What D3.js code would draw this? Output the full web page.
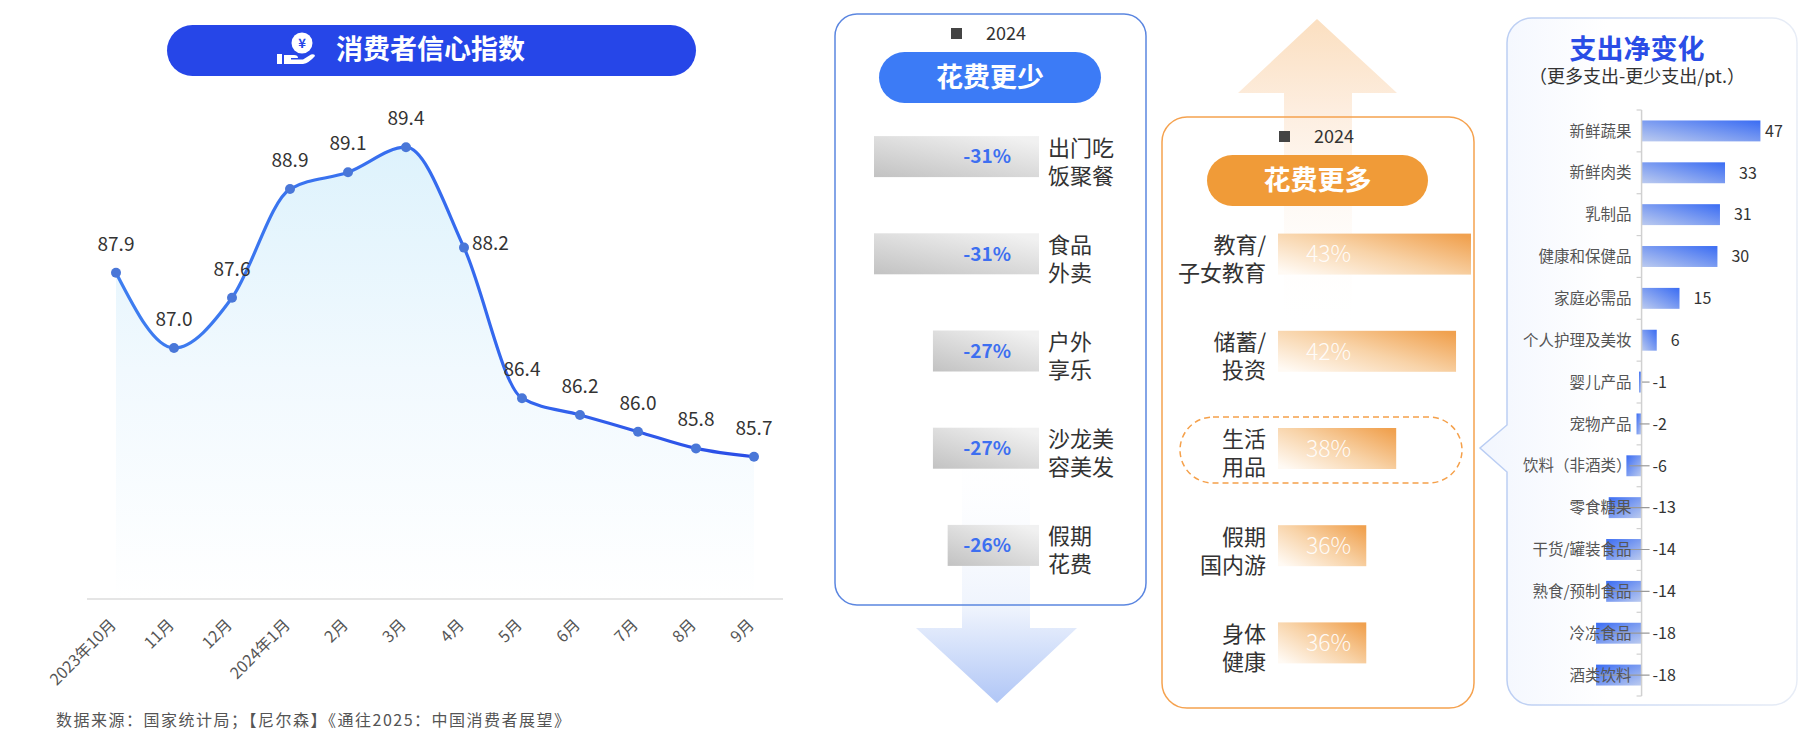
<!DOCTYPE html>
<html>
<head>
<meta charset="utf-8">
<script src="https://d3js.org/d3.v7.min.js"></script>
<style>
  body { margin: 0; background: #fff; }
  text { font-family: "Noto Sans CJK SC", "Noto Sans", sans-serif; }
</style>
</head>
<body>
<svg width="1800" height="754"></svg>
<script>
  // consumer confidence index
  const months = ["2023年10月", "11月", "12月", "2024年1月", "2月", "3月", "4月", "5月", "6月", "7月", "8月", "9月"];
  const confidence = [87.9, 87.0, 87.6, 88.9, 89.1, 89.4, 88.2, 86.4, 86.2, 86.0, 85.8, 85.7];

  // spend less / spend more (2024), "|" splits the two label lines
  const lessItems = ["出门吃|饭聚餐", "食品|外卖", "户外|享乐", "沙龙美|容美发", "假期|花费"];
  const lessValues = [-31, -31, -27, -27, -26];
  const moreItems = ["教育/|子女教育", "储蓄/|投资", "生活|用品", "假期|国内游", "身体|健康"];
  const moreValues = [43, 42, 38, 36, 36];

  // net change in spending
  const netCategories = ["新鲜蔬果", "新鲜肉类", "乳制品", "健康和保健品", "家庭必需品", "个人护理及美妆", "婴儿产品",
    "宠物产品", "饮料（非酒类）", "零食糖果", "干货/罐装食品", "熟食/预制食品", "冷冻食品", "酒类饮料"];
  const netValues = [47, 33, 31, 30, 15, 6, -1, -2, -6, -13, -14, -14, -18, -18];

  const svg = d3.select("svg");
  const defs = svg.append("defs");

  const grad = (id, a, b, stops, units) => {
    const g = defs.append("linearGradient").attr("id", id)
      .attr("x1", a[0]).attr("y1", a[1]).attr("x2", b[0]).attr("y2", b[1]);
    if (units) g.attr("gradientUnits", units);
    stops.forEach(s => g.append("stop").attr("offset", s[0]).attr("stop-color", s[1])
      .attr("stop-opacity", s[2] == null ? 1 : s[2]));
  };

  grad("areaFill", [0, 140], [0, 599], [[0, "#ddf2fc"], [0.5, "#f1f9fe"], [1, "#ffffff"]], "userSpaceOnUse");
  grad("lineStroke", [100, 0], [760, 0], [[0, "#3f7ff0"], [0.6, "#3468ee"], [1, "#2a4ce6"]], "userSpaceOnUse");
  grad("grayBar", [0, 1], [0.8, 0], [[0, "#c2c2c2"], [1, "#f1f1f1"]]);
  grad("orangeBar", [0, 0.9], [1, 0.1], [[0, "#fffaf4"], [0.5, "#f8d3a8"], [1, "#f0a14f"]]);
  grad("netPos", [0, 1], [1, 0], [[0, "#bccbef"], [1, "#3a6cf3"]]);
  grad("netNeg", [1, 1], [0, 0], [[0, "#bccbef"], [1, "#3a6cf3"]]);
  grad("blueArrow", [0, 430], [0, 703], [[0, "#ffffff", 0], [0.65, "#eff4fd"], [1, "#b0c6f6"]], "userSpaceOnUse");
  grad("orangeArrow", [0, 19], [0, 330], [[0, "#fbdfc0"], [0.3, "#fdeee0"], [1, "#ffffff", 0]], "userSpaceOnUse");
  grad("panelFill", [1480, 0], [1800, 0], [[0, "#f2f6fe"], [0.4, "#ffffff"]], "userSpaceOnUse");
  grad("panelStroke", [1480, 0], [1800, 0], [[0, "#b8ccf3"], [1, "#e8edf6"]], "userSpaceOnUse");

  // two-line label as a single text element
  const twoLines = (sel, label, x0, yc, anchor) => {
    const t = sel.append("text").attr("x", x0).attr("y", yc - 9).attr("dy", "0.36em")
      .attr("text-anchor", anchor).attr("font-size", 22).attr("fill", "#333");
    label.split("|").forEach((line, j) => {
      t.append("tspan").attr("x", x0).attr("dy", j ? 28 : null).text(line);
    });
  };

  // ---------- left: line chart ----------
  svg.append("rect").attr("x", 167).attr("y", 25).attr("width", 529).attr("height", 51)
    .attr("rx", 25.5).attr("fill", "#2646e8");
  const icon = svg.append("g").attr("fill", "#fff");
  icon.append("circle").attr("cx", 302).attr("cy", 43).attr("r", 10.5);
  icon.append("text").attr("x", 302).attr("y", 43).attr("dy", "0.36em").attr("text-anchor", "middle")
    .attr("font-size", 13).attr("font-weight", 700).attr("fill", "#2646e8").text("¥");
  icon.append("rect").attr("x", 277).attr("y", 54).attr("width", 5).attr("height", 10);
  icon.append("path").attr("d", "M284,55 L294,55 Q298,55 298,58 L291,58 L291,59.5 L303,59.5 L311,54.5 Q315,53.5 315,56 Q309,63 303,64 L284,64 Z");
  svg.append("text").attr("x", 336).attr("y", 50).attr("dy", "0.35em")
    .attr("font-size", 27).attr("font-weight", 700).attr("fill", "#fff").text("消费者信心指数");

  const x = d3.scaleBand().domain(months).range([87, 783]);
  const y = d3.scaleLinear().domain([84, 90]).range([599, 97]);
  const cx = m => x(m) + x.bandwidth() / 2;
  const pts = months.map((m, i) => ({ m, v: confidence[i] }));

  svg.append("path").datum(pts)
    .attr("d", d3.area().x(d => cx(d.m)).y0(y(84)).y1(d => y(d.v)).curve(d3.curveMonotoneX))
    .attr("fill", "url(#areaFill)");

  svg.append("line").attr("x1", 87).attr("x2", 783).attr("y1", y(84)).attr("y2", y(84))
    .attr("stroke", "#dcdcdc").attr("stroke-width", 1.5);

  svg.append("path").datum(pts)
    .attr("d", d3.line().x(d => cx(d.m)).y(d => y(d.v)).curve(d3.curveMonotoneX))
    .attr("fill", "none").attr("stroke", "url(#lineStroke)").attr("stroke-width", 3.2);

  svg.selectAll(".pt").data(pts).join("circle")
    .attr("cx", d => cx(d.m)).attr("cy", d => y(d.v)).attr("r", 5).attr("fill", "#4a77d8");

  // labels sit above the point, except on the steep drop after the peak
  svg.selectAll(".vl").data(pts).join("text")
    .attr("x", d => d.m === "4月" ? cx(d.m) + 8 : cx(d.m))
    .attr("y", d => d.m === "4月" ? y(d.v) + 2 : y(d.v) - 22)
    .attr("text-anchor", d => d.m === "4月" ? "start" : "middle")
    .attr("font-size", 19).attr("fill", "#333")
    .text(d => d.v.toFixed(1));

  svg.selectAll(".xl").data(months).join("text")
    .attr("transform", m => `translate(${cx(m) - 3},${622}) rotate(-45)`)
    .attr("text-anchor", "end").attr("dy", "0.35em")
    .attr("font-size", 16).attr("fill", "#555").text(m => m);

  svg.append("text").attr("x", 56).attr("y", 726).attr("font-size", 16).attr("letter-spacing", 1.5)
    .attr("fill", "#555").text("数据来源：国家统计局；【尼尔森】《通往2025：中国消费者展望》");

  // ---------- middle: spend less / spend more ----------
  svg.append("path").attr("d", "M962,430 L1030,430 L1030,628 L1077,628 L997,703 L916,628 L962,628 Z")
    .attr("fill", "url(#blueArrow)");
  svg.append("path").attr("d", "M1317,19 L1397,93 L1352,93 L1352,330 L1284,330 L1284,93 L1238,93 Z")
    .attr("fill", "url(#orangeArrow)");

  svg.append("rect").attr("x", 835).attr("y", 14).attr("width", 311).attr("height", 591).attr("rx", 22)
    .attr("fill", "none").attr("stroke", "#5b86e0").attr("stroke-width", 1.5);
  svg.append("rect").attr("x", 1162).attr("y", 117).attr("width", 312).attr("height", 591).attr("rx", 25)
    .attr("fill", "none").attr("stroke", "#f5a24f").attr("stroke-width", 1.5);

  const legend = (sx, sy) => {
    svg.append("rect").attr("x", sx).attr("y", sy).attr("width", 11).attr("height", 11).attr("fill", "#444");
    svg.append("text").attr("x", sx + 35).attr("y", sy + 12).attr("font-size", 18).attr("fill", "#333").text("2024");
  };
  legend(951, 28);
  legend(1279, 131);

  const pill = (x0, y0, w, color, label) => {
    svg.append("rect").attr("x", x0).attr("y", y0).attr("width", w).attr("height", 51).attr("rx", 25.5).attr("fill", color);
    svg.append("text").attr("x", x0 + w / 2).attr("y", y0 + 26).attr("dy", "0.35em").attr("text-anchor", "middle")
      .attr("font-size", 27).attr("font-weight", 700).attr("fill", "#fff").text(label);
  };
  pill(879, 52, 222, "#3c7bf6", "花费更少");
  pill(1207, 155, 221, "#f09b38", "花费更多");

  // spend less bars
  const yL = d3.scalePoint().domain(lessItems).range([108, 594]).padding(0.5);
  const wL = d3.scaleLinear().domain([19.8, 31]).range([0, 165]);
  const less = lessItems.map((c, i) => ({ c, v: lessValues[i] }));
  const barH = 41;
  svg.selectAll(".lb").data(less).join("rect")
    .attr("x", d => 1039 - wL(-d.v)).attr("y", d => yL(d.c) - barH / 2)
    .attr("width", d => wL(-d.v)).attr("height", barH).attr("fill", "url(#grayBar)");
  svg.selectAll(".lv").data(less).join("text")
    .attr("x", 1011).attr("y", d => yL(d.c)).attr("dy", "0.36em").attr("text-anchor", "end")
    .attr("font-size", 19).attr("font-weight", 600).attr("fill", "#3d6ff0").text(d => d.v + "%");
  less.forEach(d => twoLines(svg, d.c, 1048, yL(d.c), "start"));

  // spend more bars
  const yM = d3.scalePoint().domain(moreItems).range([205.5, 691.5]).padding(0.5);
  const wM = d3.scaleLinear().domain([30.1, 43]).range([0, 193]);
  const more = moreItems.map((c, i) => ({ c, v: moreValues[i] }));

  const hl = "生活|用品";
  svg.append("rect").attr("x", 1180).attr("y", yM(hl) - 31.5).attr("width", 282).attr("height", 66).attr("rx", 33)
    .attr("fill", "none").attr("stroke", "#f5a04a").attr("stroke-width", 1.5).attr("stroke-dasharray", "6,4");

  svg.selectAll(".mb").data(more).join("rect")
    .attr("x", 1278).attr("y", d => yM(d.c) - barH / 2)
    .attr("width", d => wM(d.v)).attr("height", barH).attr("fill", "url(#orangeBar)");
  svg.selectAll(".mv").data(more).join("text")
    .attr("x", 1306).attr("y", d => yM(d.c)).attr("dy", "0.36em")
    .attr("font-size", 23).attr("font-weight", 300).attr("fill", "#fff").attr("fill-opacity", 0.92)
    .text(d => d.v + "%");
  more.forEach(d => twoLines(svg, d.c, 1266, yM(d.c), "end"));

  // ---------- right: net change ----------
  svg.append("path")
    .attr("d", "M1532,18 L1772,18 A25,25 0 0 1 1797,43 L1797,680 A25,25 0 0 1 1772,705 L1532,705 A25,25 0 0 1 1507,680 L1507,472 L1480,448 L1507,425 L1507,43 A25,25 0 0 1 1532,18 Z")
    .attr("fill", "url(#panelFill)").attr("stroke", "url(#panelStroke)").attr("stroke-width", 1.5);

  svg.append("text").attr("x", 1637).attr("y", 49).attr("dy", "0.36em").attr("text-anchor", "middle")
    .attr("font-size", 27).attr("font-weight", 700).attr("fill", "#2a4de6").text("支出净变化");
  svg.append("text").attr("x", 1637).attr("y", 77).attr("dy", "0.36em").attr("text-anchor", "middle")
    .attr("font-size", 18).attr("fill", "#333").text("（更多支出-更少支出/pt.）");

  const yN = d3.scaleBand().domain(netCategories).range([110, 696]);
  const xN = d3.scaleLinear().domain([-20, 50]).range([1591, 1768]);
  const net = netCategories.map((c, i) => ({ c, v: netValues[i] }));
  const bw = yN.bandwidth();

  svg.selectAll(".nb").data(net).join("rect")
    .attr("x", d => Math.min(xN(0), xN(d.v))).attr("y", d => yN(d.c) + bw * 0.25)
    .attr("width", d => Math.abs(xN(d.v) - xN(0))).attr("height", bw * 0.5)
    .attr("fill", d => d.v >= 0 ? "url(#netPos)" : "url(#netNeg)");

  const ticks = netCategories.map(c => yN(c)).concat([yN.range()[1]]);
  svg.selectAll(".tk").data(ticks).join("line")
    .attr("x1", xN(0) - 5).attr("x2", xN(0)).attr("y1", d => d).attr("y2", d => d)
    .attr("stroke", "#d0d0d0").attr("stroke-width", 1.2);
  svg.append("line").attr("x1", xN(0)).attr("x2", xN(0)).attr("y1", 110).attr("y2", 696)
    .attr("stroke", "#d0d0d0").attr("stroke-width", 1.5);

  const labelX = d => d.v >= 0 ? Math.min(xN(d.v) + 14, 1765) : xN(0) + 11;
  svg.selectAll(".nl").data(net.filter(d => d.v < 0)).join("line")
    .attr("x1", d => xN(d.v) + 3).attr("x2", d => labelX(d) - 3)
    .attr("y1", d => yN(d.c) + bw / 2).attr("y2", d => yN(d.c) + bw / 2)
    .attr("stroke", "#999").attr("stroke-width", 1.2);

  svg.selectAll(".nc").data(net).join("text")
    .attr("x", xN(0) - 10).attr("y", d => yN(d.c) + bw / 2).attr("dy", "0.36em").attr("text-anchor", "end")
    .attr("font-size", 15.5).attr("fill", "#555").text(d => d.c);
  svg.selectAll(".nv").data(net).join("text")
    .attr("x", labelX).attr("y", d => yN(d.c) + bw / 2).attr("dy", "0.36em")
    .attr("font-size", 16).attr("fill", "#333").text(d => d.v);
</script>
</body>
</html>
